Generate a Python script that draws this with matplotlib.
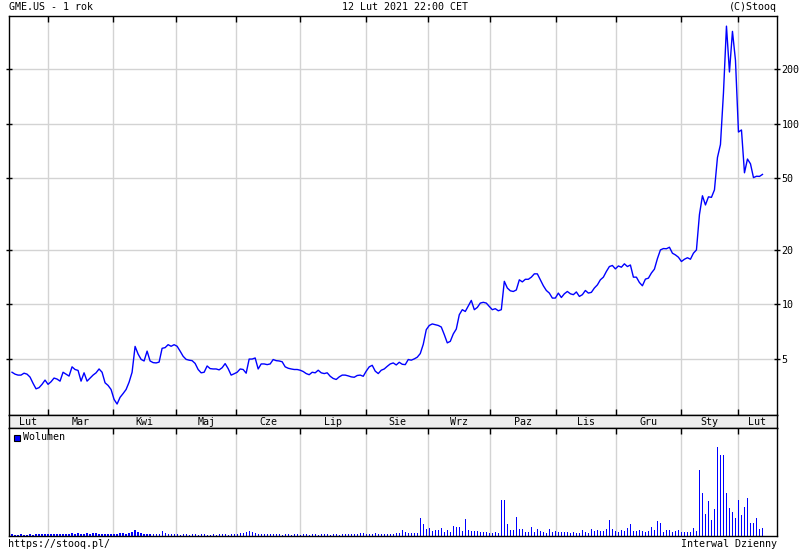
import matplotlib
matplotlib.use("Agg")
import matplotlib.pyplot as plt
from matplotlib.patches import Rectangle
from matplotlib.ticker import NullLocator
import numpy as np

# GME.US daily close (USD) and volume (mln shares)
price = [
    4.20, 4.10, 4.05, 4.05, 4.15, 4.10, 3.95, 3.65, 3.40, 3.45,
    3.60, 3.80, 3.60, 3.72, 3.90, 3.85, 3.75, 4.20, 4.10, 4.00,
    4.50, 4.35, 4.30, 3.75, 4.17, 3.75, 3.90, 4.05, 4.17, 4.38,
    4.20, 3.67, 3.55, 3.37, 2.97, 2.80, 3.05, 3.20, 3.37, 3.70,
    4.20, 5.84, 5.30, 4.95, 4.85, 5.50, 4.85, 4.75, 4.73, 4.78,
    5.70, 5.75, 5.97, 5.85, 5.97, 5.85, 5.50, 5.15, 4.95, 4.90,
    4.87, 4.70, 4.35, 4.17, 4.20, 4.55, 4.40, 4.38, 4.38, 4.33,
    4.45, 4.69, 4.40, 4.05, 4.12, 4.20, 4.38, 4.35, 4.15, 4.97,
    4.97, 5.04, 4.38, 4.67, 4.67, 4.63, 4.67, 4.94, 4.87, 4.85,
    4.80, 4.50, 4.42, 4.38, 4.35, 4.35, 4.31, 4.24, 4.13, 4.07,
    4.20, 4.17, 4.31, 4.17, 4.13, 4.17, 3.99, 3.88, 3.83, 3.96,
    4.05, 4.05, 4.01, 3.96, 3.94, 4.03, 4.05, 3.99, 4.26, 4.50,
    4.59, 4.26, 4.13, 4.31, 4.38, 4.53, 4.67, 4.73, 4.61, 4.77,
    4.65, 4.63, 4.94, 4.90, 4.98, 5.09, 5.33, 6.00, 7.23, 7.63,
    7.78, 7.70, 7.63, 7.48, 6.79, 6.11, 6.23, 6.85, 7.29, 8.75,
    9.33, 9.12, 9.80, 10.50, 9.33, 9.60, 10.15, 10.25, 10.15, 9.72,
    9.33, 9.45, 9.20, 9.33, 13.40, 12.30, 11.87, 11.77, 12.00, 13.66,
    13.30, 13.75, 13.75, 14.13, 14.74, 14.74, 13.66, 12.66, 11.92, 11.53,
    10.82, 10.82, 11.53, 10.90, 11.43, 11.77, 11.43, 11.30, 11.70, 11.05,
    11.30, 11.92, 11.53, 11.64, 12.30, 12.80, 13.66, 14.13, 15.20, 16.18,
    16.40, 15.70, 16.30, 16.04, 16.75, 16.18, 16.50, 14.13, 14.13, 13.20,
    12.66, 13.78, 13.95, 14.90, 15.65, 17.90, 20.00, 20.35, 20.30, 20.70,
    19.18, 18.77, 18.22, 17.25, 17.76, 18.10, 17.76, 19.18, 20.00, 31.40,
    39.91, 35.50, 39.36, 39.12, 43.03, 65.01, 76.79, 147.98, 347.51, 193.60,
    325.00, 225.00, 90.00, 92.41, 53.50, 63.77, 60.00, 50.31, 51.20, 51.10,
    52.40,
]

volume = [
    2.5, 2, 2, 2.5, 2, 2, 3, 2, 2.5, 3,
    4, 3, 4, 3, 2.5, 3.5, 4, 4, 3, 4,
    5, 4, 5, 4, 3.5, 5, 4, 6, 5, 4,
    3, 3.5, 2.5, 3, 4, 3.5, 4.5, 5, 4, 6,
    7, 13, 7, 5, 4, 3, 3.5, 2.5, 3, 4,
    9, 5, 4, 2.5, 3, 2.5, 2, 3, 2.5, 2,
    3, 2.5, 2, 3, 2.5, 2, 2, 2.5, 2, 3,
    2.5, 3, 2, 2.5, 3.5, 4, 6, 5, 7, 11,
    7, 5, 4, 3, 2.5, 3, 4, 4, 3, 2.5,
    2, 3, 2.5, 2, 3, 2.5, 2, 3, 2.5, 2,
    3, 2.5, 2, 3, 2.5, 3, 2, 2.5, 3, 2,
    2.5, 3, 3.5, 3, 4, 3.5, 6, 5, 4, 3.5,
    4, 5, 4, 3.5, 4, 3.5, 4, 3,
    5.2, 5.2, 11.2, 6.7, 4.5, 4.5, 4.5, 4.5, 38.0, 24.6,
    13.4, 15.7, 9.0, 11.2, 11.2, 15.7, 6.7, 11.2, 6.7, 20.1,
    17.9, 17.9, 9.0, 35.8, 11.2, 9.0, 9.0, 9.0, 6.7, 6.7,
    6.7, 4.5, 4.5, 6.7, 4.5, 78.3, 78.3, 24.6, 11.2, 11.2,
    40.3, 13.4, 13.4, 6.7, 6.7, 17.9, 6.7, 13.4, 9.0, 6.7,
    4.5, 13.4, 6.7, 9.0, 6.7, 6.7, 6.7, 6.7, 4.5, 6.7,
    4.5, 4.5, 11.2, 6.7, 4.5, 13.4, 9.0, 11.2, 9.0, 9.0,
    13.4, 33.6, 13.4, 9.0, 6.7, 11.2, 9.0, 15.7, 24.6, 9.0,
    9.0, 11.2, 9.0, 6.7, 9.0, 17.9, 11.2, 31.3, 26.9, 6.7,
    11.2, 11.2, 6.7, 9.0, 11.2, 6.7, 6.7, 6.7, 6.7, 15.7,
    9.0, 145.5, 94.0, 47.0, 76.1, 33.6, 58.2, 197.0, 179.0, 179.0,
    94.0, 60.4, 51.5, 38.0, 78.3, 44.8, 62.7, 82.8, 26.9, 26.9,
    38.0, 13.4, 15.7,
]

months = ["Lut", "Mar", "Kwi", "Maj", "Cze", "Lip", "Sie",
          "Wrz", "Paz", "Lis", "Gru", "Sty", "Lut"]
month_edges = [12.0, 33.7, 54.7, 74.7, 96.0, 118.0, 138.7,
               159.3, 181.3, 201.3, 223.0, 241.7]
price_ticks = [5, 10, 20, 50, 100, 200]

days = np.arange(len(price))
xmin, xmax = -1.17, 254.67

plt.rcParams["font.family"] = "DejaVu Sans Mono"
FS = 7.2
BLUE = "#0000ff"
GRID = "#d3d3d3"

W, H = 800, 550
fig = plt.figure(figsize=(8, 5.5), dpi=100)


def box(x0, y0, x1, y1):
    # pixel box, top-left origin -> figure rect
    return [x0 / W, 1 - y1 / H, (x1 - x0) / W, (y1 - y0) / H]


ax = fig.add_axes(box(8.5, 15.5, 776.5, 414.5))
strip = fig.add_axes(box(8.5, 414.5, 776.5, 427.5))
axv = fig.add_axes(box(8.5, 427.5, 776.5, 535.5))

# price panel
ax.plot(days, price, color=BLUE, lw=1.0)
ax.set_yscale("log")
ax.set_ylim(2.45, 398)
ax.set_xlim(xmin, xmax)
ax.yaxis.tick_right()
ax.set_yticks(price_ticks)
ax.set_yticklabels([str(t) for t in price_ticks])
ax.yaxis.set_minor_locator(NullLocator())
ax.tick_params(axis="y", which="major", direction="inout", length=5,
               width=1, labelsize=FS, pad=1, left=True, right=True)
ax.set_xticks(month_edges)
ax.tick_params(axis="x", direction="in", length=4, width=1,
               top=True, bottom=True, labelbottom=False)
ax.grid(True, color=GRID, lw=1)
ax.set_axisbelow(True)

# month strip
strip.set_facecolor("#eeeeee")
strip.set_xlim(xmin, xmax)
strip.set_ylim(0, 1)
strip.set_xticks([])
strip.set_yticks([])
edges = [xmin] + month_edges + [xmax]
for name, a, b in zip(months, edges[:-1], edges[1:]):
    strip.text((a + b) / 2, 0.45, name, ha="center", va="center", fontsize=FS)

# volume panel
axv.bar(days, volume, width=0.4, color=BLUE, antialiased=False)
axv.set_xlim(xmin, xmax)
axv.set_ylim(0, 240)
axv.set_xticks(month_edges)
axv.set_yticks([])
axv.tick_params(axis="x", direction="in", length=4, width=1,
                top=True, bottom=False, labelbottom=False)
axv.grid(True, axis="x", color=GRID, lw=1)
axv.set_axisbelow(True)

for a in (ax, strip, axv):
    for s in a.spines.values():
        s.set_color("black")
        s.set_linewidth(1)

# legend
fig.patches.append(Rectangle((14 / W, 1 - 441 / H), 6 / W, 6 / H,
                             transform=fig.transFigure, facecolor=BLUE,
                             edgecolor="black", lw=0.8))
fig.text(23 / W, 1 - 437.5 / H, "Wolumen", ha="left", va="center", fontsize=FS)

# header / footer
fig.text(9 / W, 1 - 7 / H, "GME.US - 1 rok", ha="left", va="center", fontsize=FS)
fig.text(405 / W, 1 - 7 / H, "12 Lut 2021 22:00 CET", ha="center", va="center", fontsize=FS)
fig.text(777 / W, 1 - 7 / H, "(C)Stooq", ha="right", va="center", fontsize=FS)
fig.text(8 / W, 1 - 544 / H, "https://stooq.pl/", ha="left", va="center", fontsize=FS)
fig.text(777 / W, 1 - 544 / H, "Interwal Dzienny", ha="right", va="center", fontsize=FS)

fig.savefig("out.png", dpi=100)
